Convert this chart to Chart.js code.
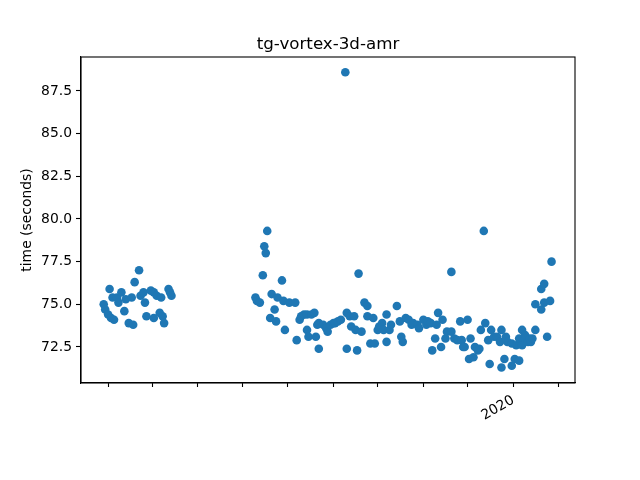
<!DOCTYPE html>
<html>
<head>
<meta charset="utf-8">
<script src="https://cdn.jsdelivr.net/npm/chart.js@4/dist/chart.umd.min.js"></script>
<style>
  html, body { margin: 0; padding: 0; background: #fff; }
  #wrap { width: 640px; height: 480px; }
</style>
</head>
<body>
<div id="wrap"><canvas id="myChart" width="640" height="480"></canvas></div>
<script>
var chartTitle = 'tg-vortex-3d-amr';
var yLabel = 'time (seconds)';

// run dates and times
var runDates = [
  '2019-03-29','2019-03-30','2019-04-01','2019-04-02','2019-04-03','2019-04-04','2019-04-05','2019-04-07',
  '2019-04-08','2019-04-10','2019-04-12','2019-04-13','2019-04-15','2019-04-17','2019-04-18','2019-04-19',
  '2019-04-22','2019-04-23','2019-04-25','2019-04-26','2019-04-27','2019-04-30','2019-05-02','2019-05-02',
  '2019-05-04','2019-05-06','2019-05-07','2019-05-08','2019-05-09','2019-05-12','2019-05-13','2019-05-14',
  '2019-07-10','2019-07-11','2019-07-13','2019-07-15','2019-07-16','2019-07-17','2019-07-18','2019-07-20',
  '2019-07-21','2019-07-23','2019-07-24','2019-07-25','2019-07-28','2019-07-29','2019-07-30','2019-08-02',
  '2019-08-06','2019-08-07','2019-08-09','2019-08-10','2019-08-12','2019-08-14','2019-08-14','2019-08-15',
  '2019-08-17','2019-08-19','2019-08-20','2019-08-21','2019-08-22','2019-08-22','2019-08-25','2019-08-27',
  '2019-08-28','2019-08-30','2019-09-01','2019-09-02','2019-09-04','2019-09-06','2019-09-09','2019-09-10',
  '2019-09-10','2019-09-12','2019-09-13','2019-09-15','2019-09-16','2019-09-17','2019-09-18','2019-09-20',
  '2019-09-22','2019-09-24','2019-09-24','2019-09-26','2019-09-28','2019-09-29','2019-10-01','2019-10-02',
  '2019-10-04','2019-10-05','2019-10-07','2019-10-07','2019-10-09','2019-10-10','2019-10-14','2019-10-16',
  '2019-10-17','2019-10-18','2019-10-20','2019-10-22','2019-10-24','2019-10-25','2019-10-28','2019-10-29',
  '2019-11-01','2019-11-03','2019-11-04','2019-11-06','2019-11-07','2019-11-09','2019-11-10','2019-11-11',
  '2019-11-13','2019-11-14','2019-11-16','2019-11-17','2019-11-20','2019-11-20','2019-11-22','2019-11-24',
  '2019-11-26','2019-11-27','2019-11-28','2019-11-29','2019-12-01','2019-12-02','2019-12-03','2019-12-05',
  '2019-12-06','2019-12-08','2019-12-09','2019-12-10','2019-12-12','2019-12-13','2019-12-15','2019-12-16',
  '2019-12-17','2019-12-19','2019-12-21','2019-12-23','2019-12-24','2019-12-24','2019-12-26','2019-12-27',
  '2019-12-28','2019-12-31','2019-12-31','2020-01-02','2020-01-03','2020-01-05','2020-01-05','2020-01-07',
  '2020-01-07','2020-01-09','2020-01-09','2020-01-11','2020-01-12','2020-01-13','2020-01-14','2020-01-16',
  '2020-01-16','2020-01-20','2020-01-22','2020-01-20','2020-01-22','2020-01-24','2020-01-26','2020-01-27'
];
var runTimes = [
  75.0, 74.7, 74.4, 75.9, 74.2, 75.4, 74.1, 75.4,
  75.1, 75.7, 74.6, 75.3, 73.9, 75.4, 73.8, 76.3,
  77.0, 75.5, 75.7, 75.1, 74.3, 75.8, 75.7, 74.2,
  75.5, 74.5, 75.4, 74.3, 73.9, 75.9, 75.7, 75.5,
  75.4, 75.2, 75.1, 76.7, 78.4, 78.0, 79.3, 74.2,
  75.6, 74.7, 74.0, 75.4, 76.4, 75.2, 73.5, 75.1,
  75.1, 72.9, 74.1, 74.3, 74.4, 74.4, 73.5, 73.1,
  74.4, 74.5, 73.1, 73.8, 72.4, 73.9, 73.8, 73.6,
  73.4, 73.8, 73.9, 73.9, 74.0, 74.1, 88.6, 72.4,
  74.5, 74.3, 73.7, 74.3, 73.5, 72.3, 76.8, 73.4,
  75.1, 74.9, 74.3, 72.7, 74.2, 72.7, 73.5, 73.7,
  73.9, 73.5, 72.8, 74.4, 73.5, 73.8, 74.9, 74.0,
  73.1, 72.8, 74.2, 74.1, 73.8, 73.9, 73.8, 73.6,
  74.1, 73.8, 74.0, 73.9, 72.3, 73.0, 73.8, 74.5,
  72.5, 74.1, 73.0, 73.4, 73.4, 76.9, 73.0, 72.9,
  74.0, 72.9, 72.5, 72.5, 74.1, 71.8, 73.0, 71.9,
  72.5, 72.3, 72.4, 73.5, 79.3, 73.9, 72.9, 71.5,
  73.5, 73.1, 73.1, 72.8, 73.5, 71.3, 71.8, 73.1,
  72.8, 72.7, 71.4, 71.8, 72.6, 71.7, 73.0, 73.5,
  72.6, 73.0, 73.2, 72.8, 73.0, 72.8, 73.0, 73.5,
  75.0, 74.7, 75.1, 75.9, 76.2, 73.1, 75.2, 77.5
];

// axis ticks: one per month, only new year labelled
var monthTicks = [
  '2019-04-01','2019-05-01','2019-06-01','2019-07-01','2019-08-01','2019-09-01',
  '2019-10-01','2019-11-01','2019-12-01','2020-01-01','2020-02-01'
];
var yTicks = [72.5, 75.0, 77.5, 80.0, 82.5, 85.0, 87.5];
var xMin = Date.parse('2019-03-13T14:00:00Z');
var xMax = Date.parse('2020-02-11T22:00:00Z');
var yMin = 70.39, yMax = 89.49;

var points = [];
for (var i = 0; i < runDates.length; i++) {
  points.push({ x: Date.parse(runDates[i]), y: runTimes[i] });
}

var frame = {
  id: 'frame',
  afterDraw: function (chart) {
    var a = chart.chartArea, c = chart.ctx;
    c.save();
    c.strokeStyle = '#000';
    c.lineWidth = 1.1;
    c.strokeRect(a.left, a.top, a.right - a.left, a.bottom - a.top);
    c.fillStyle = '#000';
    c.font = '16.7px "DejaVu Sans"';
    c.textAlign = 'center';
    c.textBaseline = 'alphabetic';
    c.fillText(chartTitle, (a.left + a.right) / 2, a.top - 8);
    c.restore();
  }
};

Chart.defaults.font.family = '"DejaVu Sans", sans-serif';
Chart.defaults.color = '#000';

var ctx = document.getElementById('myChart').getContext('2d');
var myChart = new Chart(ctx, {
  type: 'scatter',
  data: {
    datasets: [{
      data: points,
      backgroundColor: '#1f77b4',
      borderWidth: 0,
      pointRadius: 4.3,
      pointHoverRadius: 4.3
    }]
  },
  options: {
    responsive: false,
    animation: false,
    layout: { padding: { top: 57, right: 65, left: 0, bottom: 0 } },
    plugins: { legend: { display: false }, tooltip: { enabled: false }, title: { display: false } },
    scales: {
      x: {
        type: 'linear',
        min: xMin,
        max: xMax,
        afterBuildTicks: function (scale) {
          scale.ticks = monthTicks.map(function (d) { return { value: Date.parse(d) }; });
        },
        afterFit: function (scale) { scale.height = 97; },
        grid: { display: true, drawOnChartArea: false, drawTicks: true, tickLength: 4, tickColor: '#000', tickWidth: 1.1 },
        border: { display: true, color: '#000', width: 1.1 },
        ticks: {
          autoSkip: false,
          minRotation: 30,
          maxRotation: 30,
          padding: 5,
          font: { size: 13.9 },
          callback: function (v) { return v === Date.parse('2020-01-01') ? '2020' : ''; }
        }
      },
      y: {
        min: yMin,
        max: yMax,
        afterBuildTicks: function (scale) {
          scale.ticks = yTicks.map(function (v) { return { value: v }; });
        },
        afterFit: function (scale) { scale.width = 81; },
        grid: { display: true, drawOnChartArea: false, drawTicks: true, tickLength: 5, tickColor: '#000', tickWidth: 1.1 },
        border: { display: true, color: '#000', width: 1.1 },
        ticks: {
          padding: 4,
          font: { size: 13.9 },
          callback: function (v) { return Number(v).toFixed(1); }
        },
        title: { display: true, text: yLabel, font: { size: 13.9 }, padding: { top: 19, bottom: 0 } }
      }
    }
  },
  plugins: [frame]
});
</script>
</body>
</html>
